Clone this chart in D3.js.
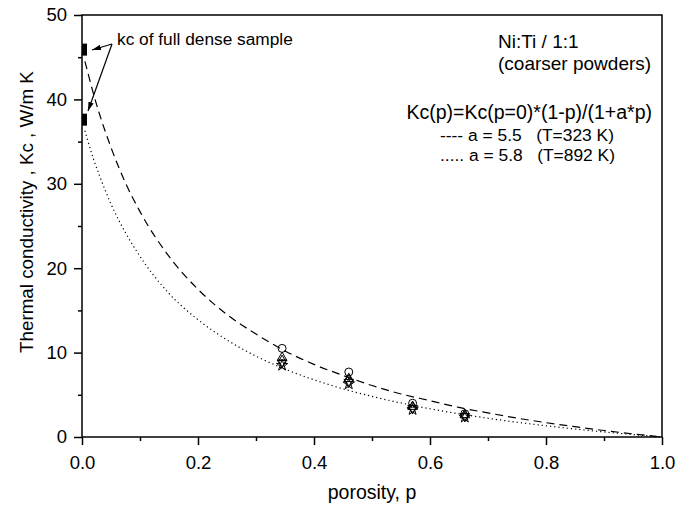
<!DOCTYPE html>
<html>
<head>
<meta charset="utf-8">
<script src="https://cdn.jsdelivr.net/npm/d3@7"></script>
<style>
  body { margin: 0; background: #fff; }
  svg { font-family: "Liberation Sans", Arial, sans-serif; }
</style>
</head>
<body>
<div id="chart"></div>
<script>
// porosity of the measured samples
var porosity = [0.345, 0.46, 0.57, 0.66];

// measured Kc (W/m K), one array per marker type
var circleVals = [10.5, 7.7, 4.0, 2.75];
var triUpVals = [9.4, 6.9, 3.6, 2.6];
var diamondVals = [9.0, 6.7, 3.5, 2.55];
var triDownVals = [8.8, 6.5, 3.4, 2.45];
var starVals = [8.5, 6.3, 3.25, 2.35];

// full dense sample values at p = 0
var denseVals = [45.9, 37.6];

// fit curves
var curveP = [0.005, 0.01, 0.02, 0.03, 0.05, 0.075, 0.1, 0.15, 0.2, 0.25, 0.3, 0.35, 0.4, 0.45,
  0.5, 0.55, 0.6, 0.65, 0.7, 0.75, 0.8, 0.85, 0.9, 0.95, 1.0];
var dashedVals = [44.5, 43.2, 40.6, 38.3, 34.3, 30.1, 26.7, 21.4, 17.5, 14.5, 12.2, 10.2, 8.6, 7.3,
  6.1, 5.1, 4.3, 3.5, 2.85, 2.24, 1.7, 1.22, 0.77, 0.37, 0];
var dottedVals = [36.3, 35.1, 32.9, 31.0, 27.6, 24.2, 21.4, 17.0, 13.9, 11.5, 9.58, 8.04, 6.78, 5.71,
  4.81, 4.03, 3.35, 2.75, 2.22, 1.75, 1.33, 0.95, 0.6, 0.29, 0];

var xTicks = [0, 0.2, 0.4, 0.6, 0.8, 1.0];
var xMinor = [0.1, 0.3, 0.5, 0.7, 0.9];
var yTicks = [0, 10, 20, 30, 40, 50];
var yMinor = [5, 15, 25, 35, 45];

var legendLines = ['Ni:Ti / 1:1', '(coarser powders)'];
var formulaText = 'Kc(p)=Kc(p=0)*(1-p)/(1+a*p)';
var fitLabels = ['---- a = 5.5   (T=323 K)', '..... a = 5.8   (T=892 K)'];

(function () {
  var W = 690, H = 506;
  var mL = 82, mR = 662, mT = 15, mB = 437;

  var svg = d3.select('#chart').append('svg')
    .attr('width', W).attr('height', H);

  var x = d3.scaleLinear().domain([0, 1]).range([mL, mR]);
  var y = d3.scaleLinear().domain([0, 50]).range([mB, mT]);

  // minor ticks
  svg.append('g')
    .attr('transform', 'translate(0,' + mB + ')')
    .call(d3.axisBottom(x).tickValues(xMinor).tickSize(4).tickSizeOuter(0).tickFormat(''))
    .call(function (g) { g.select('.domain').remove(); });
  svg.append('g')
    .attr('transform', 'translate(' + mL + ',0)')
    .call(d3.axisLeft(y).tickValues(yMinor).tickSize(4).tickSizeOuter(0).tickFormat(''))
    .call(function (g) { g.select('.domain').remove(); });

  // major ticks
  var xAxis = svg.append('g')
    .attr('transform', 'translate(0,' + mB + ')')
    .call(d3.axisBottom(x).tickValues(xTicks).tickSize(8).tickPadding(11).tickSizeOuter(0).tickFormat(d3.format('.1f')));
  xAxis.select('.domain').remove();

  var yAxis = svg.append('g')
    .attr('transform', 'translate(' + mL + ',0)')
    .call(d3.axisLeft(y).tickValues(yTicks).tickSize(8).tickPadding(7).tickSizeOuter(0));
  yAxis.select('.domain').remove();

  svg.selectAll('.tick line').attr('stroke', '#000').attr('stroke-width', 1.5);
  svg.selectAll('.tick text').attr('font-size', 18.5).attr('fill', '#000')
    .attr('font-family', '"Liberation Sans", Arial, sans-serif');

  // frame
  svg.append('rect')
    .attr('x', mL).attr('y', mT)
    .attr('width', mR - mL).attr('height', mB - mT)
    .attr('fill', 'none').attr('stroke', '#000').attr('stroke-width', 1.5);

  // axis titles
  svg.append('text')
    .attr('x', (mL + mR) / 2).attr('y', 499)
    .attr('text-anchor', 'middle').attr('font-size', 19.5)
    .text('porosity, p');

  svg.append('text')
    .attr('transform', 'translate(33,212) rotate(-90)')
    .attr('text-anchor', 'middle').attr('font-size', 18.8)
    .text('Thermal conductivity , Kc , W/m K');

  // fit curves
  var line = d3.line()
    .x(function (d) { return x(d[0]); })
    .y(function (d) { return y(d[1]); })
    .curve(d3.curveMonotoneX);

  svg.append('path')
    .datum(d3.zip(curveP, dashedVals))
    .attr('d', line)
    .attr('fill', 'none').attr('stroke', '#000').attr('stroke-width', 1.2)
    .attr('stroke-dasharray', '8,5');

  svg.append('path')
    .datum(d3.zip(curveP, dottedVals))
    .attr('d', line)
    .attr('fill', 'none').attr('stroke', '#000').attr('stroke-width', 1.2)
    .attr('stroke-dasharray', '1.2,3');

  // dense sample marks
  svg.selectAll('rect.dense')
    .data(denseVals)
    .enter().append('rect')
    .attr('class', 'dense')
    .attr('x', x(0)).attr('y', function (d) { return y(d) - 6; })
    .attr('width', 5).attr('height', 12)
    .attr('fill', '#000');

  // measured markers
  var series = [
    { vals: circleVals, sym: d3.symbolCircle, size: 50 },
    { vals: triUpVals, sym: d3.symbolTriangle, size: 40, rot: 0 },
    { vals: diamondVals, sym: d3.symbolDiamond, size: 40 },
    { vals: triDownVals, sym: d3.symbolTriangle, size: 40, rot: 180 },
    { vals: starVals, sym: d3.symbolStar, size: 40 }
  ];

  series.forEach(function (s) {
    svg.append('g').selectAll('path')
      .data(d3.zip(porosity, s.vals))
      .enter().append('path')
      .attr('d', d3.symbol().type(s.sym).size(s.size))
      .attr('transform', function (d) {
        return 'translate(' + x(d[0]) + ',' + y(d[1]) + ')' + (s.rot ? ' rotate(' + s.rot + ')' : '');
      })
      .attr('fill', 'none').attr('stroke', '#000').attr('stroke-width', 1);
  });

  // annotation
  svg.append('text')
    .attr('x', 117).attr('y', 45)
    .attr('font-size', 17.3)
    .text('kc of full dense sample');

  var defs = svg.append('defs');
  defs.append('marker')
    .attr('id', 'arrow')
    .attr('viewBox', '0 0 10 10')
    .attr('refX', 10).attr('refY', 5)
    .attr('markerWidth', 9).attr('markerHeight', 9)
    .attr('markerUnits', 'userSpaceOnUse')
    .attr('orient', 'auto')
    .append('path')
    .attr('d', 'M0,2 L10,5 L0,8 Z')
    .attr('fill', '#000');

  svg.append('line')
    .attr('x1', 112).attr('y1', 44).attr('x2', 92).attr('y2', 50)
    .attr('stroke', '#000').attr('stroke-width', 1.2)
    .attr('marker-end', 'url(#arrow)');
  svg.append('line')
    .attr('x1', 112).attr('y1', 44).attr('x2', 88).attr('y2', 111)
    .attr('stroke', '#000').attr('stroke-width', 1.2)
    .attr('marker-end', 'url(#arrow)');

  // legend text
  svg.selectAll('text.leg')
    .data(legendLines)
    .enter().append('text')
    .attr('class', 'leg')
    .attr('x', 498).attr('y', function (d, i) { return 48 + i * 22; })
    .attr('font-size', 19)
    .text(function (d) { return d; });

  svg.append('text')
    .attr('x', 652).attr('y', 119)
    .attr('text-anchor', 'end')
    .attr('font-size', 19.5)
    .text(formulaText);

  svg.selectAll('text.fit')
    .data(fitLabels)
    .enter().append('text')
    .attr('class', 'fit')
    .attr('x', 440).attr('y', function (d, i) { return 141 + i * 20; })
    .attr('font-size', 17.4)
    .attr('xml:space', 'preserve')
    .style('white-space', 'pre')
    .text(function (d) { return d; });
})();
</script>
</body>
</html>
